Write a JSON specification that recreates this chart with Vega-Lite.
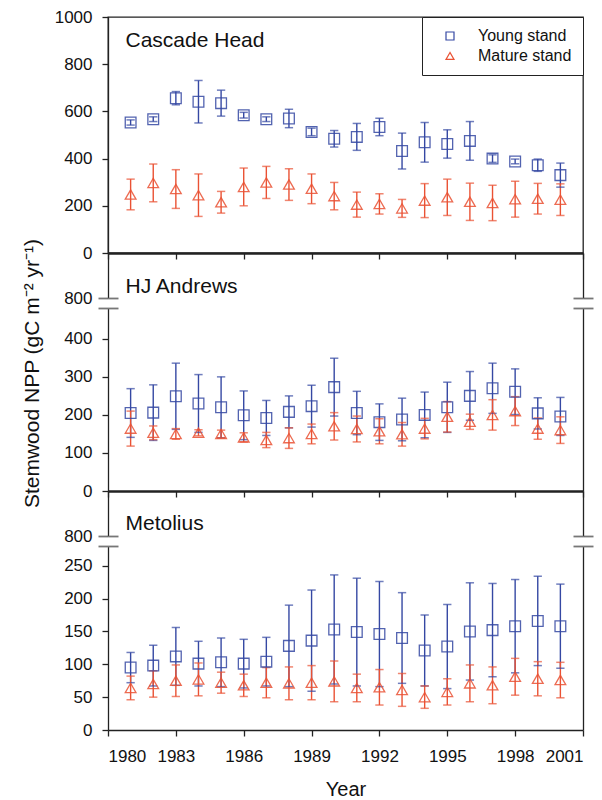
{
  "$schema": "https://vega.github.io/schema/vega-lite/v6.json",
  "padding": {"left": 20, "top": 7, "right": 0, "bottom": 0},
  "spacing": 0,
  "bounds": "flush",
  "config": {
    "font": "Liberation Sans",
    "view": {"stroke": null},
    "axis": {"domainColor": "#222", "tickColor": "#222", "labelColor": "#111", "labelFontSize": 17, "grid": false, "domainWidth": 1.3, "tickWidth": 1.3, "titleColor": "#111", "titleFontWeight": "normal", "labelFont": "Liberation Sans", "titleFont": "Liberation Sans", "format": "d"},
    "legend": {"symbolFillColor": "transparent"}
  },
  "resolve": {"scale": {"color": "independent", "shape": "independent"}},
  "datasets": {
    "npp": [
      {"site":"Cascade Head","stand":"Young stand","year":1981,"npp":553,"lo":542,"hi":564},
      {"site":"Cascade Head","stand":"Young stand","year":1982,"npp":567,"lo":557,"hi":577},
      {"site":"Cascade Head","stand":"Young stand","year":1983,"npp":656,"lo":628,"hi":684},
      {"site":"Cascade Head","stand":"Young stand","year":1984,"npp":641,"lo":551,"hi":731},
      {"site":"Cascade Head","stand":"Young stand","year":1985,"npp":635,"lo":580,"hi":690},
      {"site":"Cascade Head","stand":"Young stand","year":1986,"npp":584,"lo":572,"hi":596},
      {"site":"Cascade Head","stand":"Young stand","year":1987,"npp":567,"lo":557,"hi":577},
      {"site":"Cascade Head","stand":"Young stand","year":1988,"npp":570,"lo":531,"hi":609},
      {"site":"Cascade Head","stand":"Young stand","year":1989,"npp":513,"lo":497,"hi":529},
      {"site":"Cascade Head","stand":"Young stand","year":1990,"npp":484,"lo":449,"hi":519},
      {"site":"Cascade Head","stand":"Young stand","year":1991,"npp":492,"lo":435,"hi":549},
      {"site":"Cascade Head","stand":"Young stand","year":1992,"npp":534,"lo":497,"hi":571},
      {"site":"Cascade Head","stand":"Young stand","year":1993,"npp":432,"lo":356,"hi":508},
      {"site":"Cascade Head","stand":"Young stand","year":1994,"npp":469,"lo":385,"hi":553},
      {"site":"Cascade Head","stand":"Young stand","year":1995,"npp":462,"lo":402,"hi":522},
      {"site":"Cascade Head","stand":"Young stand","year":1996,"npp":475,"lo":393,"hi":557},
      {"site":"Cascade Head","stand":"Young stand","year":1997,"npp":400,"lo":384,"hi":416},
      {"site":"Cascade Head","stand":"Young stand","year":1998,"npp":388,"lo":378,"hi":398},
      {"site":"Cascade Head","stand":"Young stand","year":1999,"npp":372,"lo":346,"hi":398},
      {"site":"Cascade Head","stand":"Young stand","year":2000,"npp":330,"lo":279,"hi":381},
      {"site":"Cascade Head","stand":"Mature stand","year":1981,"npp":248,"lo":183,"hi":313},
      {"site":"Cascade Head","stand":"Mature stand","year":1982,"npp":297,"lo":217,"hi":377},
      {"site":"Cascade Head","stand":"Mature stand","year":1983,"npp":271,"lo":189,"hi":353},
      {"site":"Cascade Head","stand":"Mature stand","year":1984,"npp":245,"lo":155,"hi":335},
      {"site":"Cascade Head","stand":"Mature stand","year":1985,"npp":215,"lo":169,"hi":261},
      {"site":"Cascade Head","stand":"Mature stand","year":1986,"npp":280,"lo":200,"hi":360},
      {"site":"Cascade Head","stand":"Mature stand","year":1987,"npp":299,"lo":231,"hi":367},
      {"site":"Cascade Head","stand":"Mature stand","year":1988,"npp":290,"lo":223,"hi":357},
      {"site":"Cascade Head","stand":"Mature stand","year":1989,"npp":272,"lo":209,"hi":335},
      {"site":"Cascade Head","stand":"Mature stand","year":1990,"npp":241,"lo":183,"hi":299},
      {"site":"Cascade Head","stand":"Mature stand","year":1991,"npp":205,"lo":152,"hi":258},
      {"site":"Cascade Head","stand":"Mature stand","year":1992,"npp":208,"lo":165,"hi":251},
      {"site":"Cascade Head","stand":"Mature stand","year":1993,"npp":189,"lo":151,"hi":227},
      {"site":"Cascade Head","stand":"Mature stand","year":1994,"npp":222,"lo":150,"hi":294},
      {"site":"Cascade Head","stand":"Mature stand","year":1995,"npp":236,"lo":159,"hi":313},
      {"site":"Cascade Head","stand":"Mature stand","year":1996,"npp":217,"lo":138,"hi":296},
      {"site":"Cascade Head","stand":"Mature stand","year":1997,"npp":212,"lo":137,"hi":287},
      {"site":"Cascade Head","stand":"Mature stand","year":1998,"npp":228,"lo":152,"hi":304},
      {"site":"Cascade Head","stand":"Mature stand","year":1999,"npp":230,"lo":165,"hi":295},
      {"site":"Cascade Head","stand":"Mature stand","year":2000,"npp":226,"lo":159,"hi":293},
      {"site":"HJ Andrews","stand":"Young stand","year":1981,"npp":205,"lo":141,"hi":269},
      {"site":"HJ Andrews","stand":"Young stand","year":1982,"npp":206,"lo":133,"hi":279},
      {"site":"HJ Andrews","stand":"Young stand","year":1983,"npp":249,"lo":162,"hi":336},
      {"site":"HJ Andrews","stand":"Young stand","year":1984,"npp":230,"lo":154,"hi":306},
      {"site":"HJ Andrews","stand":"Young stand","year":1985,"npp":220,"lo":140,"hi":300},
      {"site":"HJ Andrews","stand":"Young stand","year":1986,"npp":199,"lo":135,"hi":263},
      {"site":"HJ Andrews","stand":"Young stand","year":1987,"npp":192,"lo":146,"hi":238},
      {"site":"HJ Andrews","stand":"Young stand","year":1988,"npp":208,"lo":166,"hi":250},
      {"site":"HJ Andrews","stand":"Young stand","year":1989,"npp":223,"lo":168,"hi":278},
      {"site":"HJ Andrews","stand":"Young stand","year":1990,"npp":273,"lo":197,"hi":349},
      {"site":"HJ Andrews","stand":"Young stand","year":1991,"npp":205,"lo":148,"hi":262},
      {"site":"HJ Andrews","stand":"Young stand","year":1992,"npp":181,"lo":133,"hi":229},
      {"site":"HJ Andrews","stand":"Young stand","year":1993,"npp":188,"lo":132,"hi":244},
      {"site":"HJ Andrews","stand":"Young stand","year":1994,"npp":200,"lo":140,"hi":260},
      {"site":"HJ Andrews","stand":"Young stand","year":1995,"npp":220,"lo":154,"hi":286},
      {"site":"HJ Andrews","stand":"Young stand","year":1996,"npp":250,"lo":186,"hi":314},
      {"site":"HJ Andrews","stand":"Young stand","year":1997,"npp":270,"lo":204,"hi":336},
      {"site":"HJ Andrews","stand":"Young stand","year":1998,"npp":261,"lo":201,"hi":321},
      {"site":"HJ Andrews","stand":"Young stand","year":1999,"npp":204,"lo":163,"hi":245},
      {"site":"HJ Andrews","stand":"Young stand","year":2000,"npp":196,"lo":146,"hi":246},
      {"site":"HJ Andrews","stand":"Mature stand","year":1981,"npp":164,"lo":118,"hi":210},
      {"site":"HJ Andrews","stand":"Mature stand","year":1982,"npp":153,"lo":135,"hi":171},
      {"site":"HJ Andrews","stand":"Mature stand","year":1983,"npp":150,"lo":136,"hi":164},
      {"site":"HJ Andrews","stand":"Mature stand","year":1984,"npp":153,"lo":145,"hi":161},
      {"site":"HJ Andrews","stand":"Mature stand","year":1985,"npp":150,"lo":140,"hi":160},
      {"site":"HJ Andrews","stand":"Mature stand","year":1986,"npp":141,"lo":129,"hi":153},
      {"site":"HJ Andrews","stand":"Mature stand","year":1987,"npp":134,"lo":114,"hi":154},
      {"site":"HJ Andrews","stand":"Mature stand","year":1988,"npp":139,"lo":112,"hi":166},
      {"site":"HJ Andrews","stand":"Mature stand","year":1989,"npp":150,"lo":124,"hi":176},
      {"site":"HJ Andrews","stand":"Mature stand","year":1990,"npp":170,"lo":134,"hi":206},
      {"site":"HJ Andrews","stand":"Mature stand","year":1991,"npp":163,"lo":129,"hi":197},
      {"site":"HJ Andrews","stand":"Mature stand","year":1992,"npp":157,"lo":124,"hi":190},
      {"site":"HJ Andrews","stand":"Mature stand","year":1993,"npp":149,"lo":118,"hi":180},
      {"site":"HJ Andrews","stand":"Mature stand","year":1994,"npp":164,"lo":137,"hi":191},
      {"site":"HJ Andrews","stand":"Mature stand","year":1995,"npp":195,"lo":155,"hi":235},
      {"site":"HJ Andrews","stand":"Mature stand","year":1996,"npp":182,"lo":162,"hi":202},
      {"site":"HJ Andrews","stand":"Mature stand","year":1997,"npp":200,"lo":160,"hi":240},
      {"site":"HJ Andrews","stand":"Mature stand","year":1998,"npp":210,"lo":172,"hi":248},
      {"site":"HJ Andrews","stand":"Mature stand","year":1999,"npp":164,"lo":136,"hi":192},
      {"site":"HJ Andrews","stand":"Mature stand","year":2000,"npp":160,"lo":125,"hi":195},
      {"site":"Metolius","stand":"Young stand","year":1981,"npp":95,"lo":72,"hi":118},
      {"site":"Metolius","stand":"Young stand","year":1982,"npp":98,"lo":67,"hi":129},
      {"site":"Metolius","stand":"Young stand","year":1983,"npp":112,"lo":68,"hi":156},
      {"site":"Metolius","stand":"Young stand","year":1984,"npp":101,"lo":67,"hi":135},
      {"site":"Metolius","stand":"Young stand","year":1985,"npp":103,"lo":66,"hi":140},
      {"site":"Metolius","stand":"Young stand","year":1986,"npp":101,"lo":64,"hi":138},
      {"site":"Metolius","stand":"Young stand","year":1987,"npp":104,"lo":67,"hi":141},
      {"site":"Metolius","stand":"Young stand","year":1988,"npp":128,"lo":66,"hi":190},
      {"site":"Metolius","stand":"Young stand","year":1989,"npp":136,"lo":59,"hi":213},
      {"site":"Metolius","stand":"Young stand","year":1990,"npp":153,"lo":70,"hi":236},
      {"site":"Metolius","stand":"Young stand","year":1991,"npp":149,"lo":67,"hi":231},
      {"site":"Metolius","stand":"Young stand","year":1992,"npp":146,"lo":66,"hi":226},
      {"site":"Metolius","stand":"Young stand","year":1993,"npp":140,"lo":71,"hi":209},
      {"site":"Metolius","stand":"Young stand","year":1994,"npp":121,"lo":67,"hi":175},
      {"site":"Metolius","stand":"Young stand","year":1995,"npp":127,"lo":63,"hi":191},
      {"site":"Metolius","stand":"Young stand","year":1996,"npp":150,"lo":76,"hi":224},
      {"site":"Metolius","stand":"Young stand","year":1997,"npp":152,"lo":81,"hi":223},
      {"site":"Metolius","stand":"Young stand","year":1998,"npp":158,"lo":87,"hi":229},
      {"site":"Metolius","stand":"Young stand","year":1999,"npp":166,"lo":98,"hi":234},
      {"site":"Metolius","stand":"Young stand","year":2000,"npp":158,"lo":94,"hi":222},
      {"site":"Metolius","stand":"Mature stand","year":1981,"npp":64,"lo":46,"hi":82},
      {"site":"Metolius","stand":"Mature stand","year":1982,"npp":70,"lo":50,"hi":90},
      {"site":"Metolius","stand":"Mature stand","year":1983,"npp":75,"lo":51,"hi":99},
      {"site":"Metolius","stand":"Mature stand","year":1984,"npp":77,"lo":52,"hi":102},
      {"site":"Metolius","stand":"Mature stand","year":1985,"npp":72,"lo":56,"hi":88},
      {"site":"Metolius","stand":"Mature stand","year":1986,"npp":68,"lo":51,"hi":85},
      {"site":"Metolius","stand":"Mature stand","year":1987,"npp":72,"lo":49,"hi":95},
      {"site":"Metolius","stand":"Mature stand","year":1988,"npp":71,"lo":46,"hi":96},
      {"site":"Metolius","stand":"Mature stand","year":1989,"npp":72,"lo":46,"hi":98},
      {"site":"Metolius","stand":"Mature stand","year":1990,"npp":74,"lo":43,"hi":105},
      {"site":"Metolius","stand":"Mature stand","year":1991,"npp":64,"lo":43,"hi":85},
      {"site":"Metolius","stand":"Mature stand","year":1992,"npp":65,"lo":38,"hi":92},
      {"site":"Metolius","stand":"Mature stand","year":1993,"npp":61,"lo":36,"hi":86},
      {"site":"Metolius","stand":"Mature stand","year":1994,"npp":50,"lo":33,"hi":67},
      {"site":"Metolius","stand":"Mature stand","year":1995,"npp":58,"lo":38,"hi":78},
      {"site":"Metolius","stand":"Mature stand","year":1996,"npp":71,"lo":43,"hi":99},
      {"site":"Metolius","stand":"Mature stand","year":1997,"npp":68,"lo":40,"hi":96},
      {"site":"Metolius","stand":"Mature stand","year":1998,"npp":81,"lo":53,"hi":109},
      {"site":"Metolius","stand":"Mature stand","year":1999,"npp":78,"lo":52,"hi":104},
      {"site":"Metolius","stand":"Mature stand","year":2000,"npp":76,"lo":49,"hi":103}
    ]
  },
  "vconcat": [
    {
      "width": 475, "height": 236,
      "view": {"stroke": "#222", "strokeWidth": 1.3},
      "data": {"name": "npp"},
      "transform": [{"filter": "datum.site === 'Cascade Head'"}],
      "resolve": {"axis": {"x": "independent", "y": "independent"}},
      "layer": [
        {"mark": {"type": "point", "filled": false, "size": 115, "strokeWidth": 1.3, "opacity": 0.85},
         "encoding": {
           "x": {"field": "year", "type": "quantitative", "scale": {"domain": [1980, 2001], "nice": false, "zero": false}, "axis": null},
           "y": {"field": "npp", "type": "quantitative", "scale": {"domain": [0, 1000], "nice": false, "zero": false}, "axis": null},
           "color": {"field": "stand", "type": "nominal", "scale": {"domain": ["Young stand", "Mature stand"], "range": ["#3548a3", "#ea5234"]},
             "legend": {"title": null, "orient": "top-right", "offset": 0, "strokeColor": "#222", "fillColor": "white", "padding": 11, "labelFontSize": 16, "labelOffset": 20, "rowPadding": 4, "symbolSize": 64, "symbolStrokeWidth": 1.2, "symbolFillColor": "transparent", "labelColor": "#111", "labelFont": "Liberation Sans",
               "encode": {"symbols": {"update": {"x": {"value": 17}, "fill": {"value": "transparent"}, "stroke": {"signal": "datum.value === 'Young stand' ? '#3548a3' : '#ea5234'"}}}, "labels": {"update": {"x": {"value": 45}}}}}},
           "shape": {"field": "stand", "type": "nominal", "scale": {"domain": ["Young stand", "Mature stand"], "range": ["square", "triangle-up"]},
             "legend": {"title": null, "orient": "top-right", "offset": 0, "strokeColor": "#222", "fillColor": "white", "padding": 11, "labelFontSize": 16, "labelOffset": 20, "rowPadding": 4, "symbolSize": 64, "symbolStrokeWidth": 1.2, "symbolFillColor": "transparent", "labelColor": "#111", "labelFont": "Liberation Sans",
               "encode": {"symbols": {"update": {"x": {"value": 17}, "fill": {"value": "transparent"}, "stroke": {"signal": "datum.value === 'Young stand' ? '#3548a3' : '#ea5234'"}}}, "labels": {"update": {"x": {"value": 45}}}}}}
         }},
        {"mark": {"type": "rule", "strokeWidth": 1.4},
         "encoding": {
           "x": {"field": "year", "type": "quantitative", "axis": {"orient": "bottom", "values": [1980, 1983, 1986, 1989, 1992, 1995, 1998, 2001], "labels": false, "tickSize": 6, "domainWidth": 2.6, "title": null}},
           "y": {"field": "lo", "type": "quantitative", "axis": {"orient": "left", "values": [0, 200, 400, 600, 800, 1000], "format": "d", "tickSize": 6, "labelPadding": 10, "title": null}},
           "y2": {"field": "hi"},
           "color": {"field": "stand", "type": "nominal",
             "legend": {"title": null, "orient": "top-right", "offset": 0, "strokeColor": "#222", "fillColor": "white", "padding": 11, "labelFontSize": 16, "labelOffset": 20, "rowPadding": 4, "symbolSize": 64, "symbolStrokeWidth": 1.2, "symbolFillColor": "transparent", "labelColor": "#111", "labelFont": "Liberation Sans",
               "encode": {"symbols": {"update": {"x": {"value": 17}, "fill": {"value": "transparent"}, "stroke": {"signal": "datum.value === 'Young stand' ? '#3548a3' : '#ea5234'"}}}, "labels": {"update": {"x": {"value": 45}}}}}}
         }},
        {"mark": {"type": "tick", "orient": "horizontal", "size": 7, "thickness": 0.2, "filled": false, "strokeWidth": 1.3},
         "encoding": {
           "x": {"field": "year", "type": "quantitative", "axis": {"orient": "top", "domain": false, "ticks": false, "labels": false, "title": "Cascade Head", "titleX": 17, "titleY": 29.7, "titleAlign": "left", "titleBaseline": "alphabetic", "titleFontSize": 21}},
           "y": {"field": "lo", "type": "quantitative", "axis": null},
           "color": {"field": "stand", "type": "nominal",
             "legend": {"title": null, "orient": "top-right", "offset": 0, "strokeColor": "#222", "fillColor": "white", "padding": 11, "labelFontSize": 16, "labelOffset": 20, "rowPadding": 4, "symbolSize": 64, "symbolStrokeWidth": 1.2, "symbolFillColor": "transparent", "labelColor": "#111", "labelFont": "Liberation Sans",
               "encode": {"symbols": {"update": {"x": {"value": 17}, "fill": {"value": "transparent"}, "stroke": {"signal": "datum.value === 'Young stand' ? '#3548a3' : '#ea5234'"}}}, "labels": {"update": {"x": {"value": 45}}}}}}
         }},
        {"mark": {"type": "tick", "orient": "horizontal", "size": 7, "thickness": 0.2, "filled": false, "strokeWidth": 1.3},
         "encoding": {
           "x": {"field": "year", "type": "quantitative", "axis": null},
           "y": {"field": "hi", "type": "quantitative", "axis": null},
           "color": {"field": "stand", "type": "nominal",
             "legend": {"title": null, "orient": "top-right", "offset": 0, "strokeColor": "#222", "fillColor": "white", "padding": 11, "labelFontSize": 16, "labelOffset": 20, "rowPadding": 4, "symbolSize": 64, "symbolStrokeWidth": 1.2, "symbolFillColor": "transparent", "labelColor": "#111", "labelFont": "Liberation Sans",
               "encode": {"symbols": {"update": {"x": {"value": 17}, "fill": {"value": "transparent"}, "stroke": {"signal": "datum.value === 'Young stand' ? '#3548a3' : '#ea5234'"}}}, "labels": {"update": {"x": {"value": 45}}}}}}
         }}
      ]
    },
    {
      "width": 475, "height": 55,
      "data": {"name": "npp"},
      "transform": [{"filter": "datum.npp > 5000"}],
      "resolve": {"axis": {"x": "independent", "y": "independent"}},
      "layer": [
        {"mark": "rule", "encoding": {
          "x": {"field": "year", "type": "quantitative", "scale": {"domain": [1980, 2001], "nice": false, "zero": false}, "axis": {"orient": "top", "domain": false, "ticks": false, "labels": false, "title": "HJ Andrews", "titleX": 17, "titleY": 39.3, "titleAlign": "left", "titleBaseline": "alphabetic", "titleFontSize": 21}},
          "y": {"field": "npp", "type": "quantitative", "scale": {"domain": [800, 918], "range": [45, 0], "nice": false, "zero": false}, "axis": {"orient": "left", "values": [800], "tickSize": 10, "tickColor": "#777", "tickWidth": 1.8, "labelPadding": 6, "title": null}}}},
        {"mark": "rule", "encoding": {
          "x": {"field": "year", "type": "quantitative", "axis": null},
          "y": {"field": "npp", "type": "quantitative", "axis": {"orient": "left", "values": [800], "offset": -10, "tickSize": 10, "tickColor": "#777", "tickWidth": 1.8, "domain": false, "labels": false, "title": null}}}},
        {"mark": "rule", "encoding": {
          "x": {"field": "year", "type": "quantitative", "axis": null},
          "y": {"field": "npp", "type": "quantitative", "axis": {"orient": "right", "values": [800], "tickSize": 10, "tickColor": "#777", "tickWidth": 1.8, "labels": false, "title": null}}}},
        {"mark": "rule", "encoding": {
          "x": {"field": "year", "type": "quantitative", "axis": null},
          "y": {"field": "npp", "type": "quantitative", "axis": {"orient": "right", "values": [800], "offset": -10, "tickSize": 10, "tickColor": "#777", "tickWidth": 1.8, "domain": false, "labels": false, "title": null}}}}
      ]
    },
    {
      "width": 475, "height": 183,
      "data": {"name": "npp"},
      "transform": [{"filter": "datum.site === 'HJ Andrews'"}],
      "resolve": {"axis": {"x": "independent", "y": "independent"}},
      "layer": [
        {"mark": {"type": "rule", "strokeWidth": 1.4},
         "encoding": {
           "x": {"field": "year", "type": "quantitative", "scale": {"domain": [1980, 2001], "nice": false, "zero": false}, "axis": {"orient": "bottom", "values": [1980, 1983, 1986, 1989, 1992, 1995, 1998, 2001], "labels": false, "tickSize": 6, "domainWidth": 2.6, "title": null}},
           "y": {"field": "lo", "type": "quantitative", "scale": {"domain": [0, 481], "nice": false, "zero": false}, "axis": {"orient": "left", "values": [0, 100, 200, 300, 400], "tickSize": 6, "labelPadding": 10, "title": "Stemwood NPP (gC m⁻² yr⁻¹)", "titleFontSize": 21, "titleX": -76, "titleY": 65, "titleAngle": -90, "titleAlign": "center", "titleBaseline": "middle"}},
           "y2": {"field": "hi"},
           "color": {"field": "stand", "type": "nominal", "scale": {"domain": ["Young stand", "Mature stand"], "range": ["#3548a3", "#ea5234"]}, "legend": null}
         }},
        {"mark": {"type": "tick", "orient": "horizontal", "size": 7, "thickness": 0.2, "filled": false, "strokeWidth": 1.3},
         "encoding": {
           "x": {"field": "year", "type": "quantitative", "axis": null},
           "y": {"field": "lo", "type": "quantitative", "axis": {"orient": "left", "values": [481], "offset": -10, "tickSize": 20, "tickColor": "#777", "tickWidth": 1.8, "domain": false, "labels": false, "title": null}},
           "color": {"field": "stand", "type": "nominal", "legend": null}
         }},
        {"mark": {"type": "tick", "orient": "horizontal", "size": 7, "thickness": 0.2, "filled": false, "strokeWidth": 1.3},
         "encoding": {
           "x": {"field": "year", "type": "quantitative", "axis": null},
           "y": {"field": "hi", "type": "quantitative", "axis": {"orient": "right", "ticks": false, "labels": false, "title": null}},
           "color": {"field": "stand", "type": "nominal", "legend": null}
         }},
        {"mark": {"type": "point", "filled": false, "size": 115, "strokeWidth": 1.3, "opacity": 0.85},
         "encoding": {
           "x": {"field": "year", "type": "quantitative", "axis": null},
           "y": {"field": "npp", "type": "quantitative", "axis": {"orient": "right", "values": [481], "offset": -10, "tickSize": 20, "tickColor": "#777", "tickWidth": 1.8, "domain": false, "labels": false, "title": null}},
           "color": {"field": "stand", "type": "nominal", "legend": null},
           "shape": {"field": "stand", "type": "nominal", "scale": {"domain": ["Young stand", "Mature stand"], "range": ["square", "triangle-up"]}, "legend": null}
         }}
      ]
    },
    {
      "width": 475, "height": 55,
      "data": {"name": "npp"},
      "transform": [{"filter": "datum.npp > 5000"}],
      "resolve": {"axis": {"x": "independent", "y": "independent"}},
      "layer": [
        {"mark": "rule", "encoding": {
          "x": {"field": "year", "type": "quantitative", "scale": {"domain": [1980, 2001], "nice": false, "zero": false}, "axis": {"orient": "top", "domain": false, "ticks": false, "labels": false, "title": "Metolius", "titleX": 17, "titleY": 38, "titleAlign": "left", "titleBaseline": "alphabetic", "titleFontSize": 21}},
          "y": {"field": "npp", "type": "quantitative", "scale": {"domain": [800, 868], "range": [45, 0], "nice": false, "zero": false}, "axis": {"orient": "left", "values": [800], "tickSize": 10, "tickColor": "#777", "tickWidth": 1.8, "labelPadding": 6, "title": null}}}},
        {"mark": "rule", "encoding": {
          "x": {"field": "year", "type": "quantitative", "axis": null},
          "y": {"field": "npp", "type": "quantitative", "axis": {"orient": "left", "values": [800], "offset": -10, "tickSize": 10, "tickColor": "#777", "tickWidth": 1.8, "domain": false, "labels": false, "title": null}}}},
        {"mark": "rule", "encoding": {
          "x": {"field": "year", "type": "quantitative", "axis": null},
          "y": {"field": "npp", "type": "quantitative", "axis": {"orient": "right", "values": [800], "tickSize": 10, "tickColor": "#777", "tickWidth": 1.8, "labels": false, "title": null}}}},
        {"mark": "rule", "encoding": {
          "x": {"field": "year", "type": "quantitative", "axis": null},
          "y": {"field": "npp", "type": "quantitative", "axis": {"orient": "right", "values": [800], "offset": -10, "tickSize": 10, "tickColor": "#777", "tickWidth": 1.8, "domain": false, "labels": false, "title": null}}}}
      ]
    },
    {
      "width": 475, "height": 184,
      "data": {"name": "npp"},
      "transform": [{"filter": "datum.site === 'Metolius'"}],
      "resolve": {"axis": {"x": "independent", "y": "independent"}},
      "layer": [
        {"mark": {"type": "rule", "strokeWidth": 1.4},
         "encoding": {
           "x": {"field": "year", "type": "quantitative", "scale": {"domain": [1980, 2001], "nice": false, "zero": false}, "axis": {"orient": "bottom", "values": [1980, 1983, 1986, 1989, 1992, 1995, 1998, 2001], "format": "d", "tickSize": 6, "labelPadding": 12, "title": "Year", "titleFontSize": 20, "titleBaseline": "alphabetic", "titleY": 65.5}},
           "y": {"field": "lo", "type": "quantitative", "scale": {"domain": [0, 280], "nice": false, "zero": false}, "axis": {"orient": "left", "values": [0, 50, 100, 150, 200, 250], "tickSize": 6, "labelPadding": 10, "title": null}},
           "y2": {"field": "hi"},
           "color": {"field": "stand", "type": "nominal", "scale": {"domain": ["Young stand", "Mature stand"], "range": ["#3548a3", "#ea5234"]}, "legend": null}
         }},
        {"mark": {"type": "tick", "orient": "horizontal", "size": 7, "thickness": 0.2, "filled": false, "strokeWidth": 1.3},
         "encoding": {
           "x": {"field": "year", "type": "quantitative", "axis": null},
           "y": {"field": "lo", "type": "quantitative", "axis": {"orient": "left", "values": [280], "offset": -10, "tickSize": 20, "tickColor": "#777", "tickWidth": 1.8, "domain": false, "labels": false, "title": null}},
           "color": {"field": "stand", "type": "nominal", "legend": null}
         }},
        {"mark": {"type": "tick", "orient": "horizontal", "size": 7, "thickness": 0.2, "filled": false, "strokeWidth": 1.3},
         "encoding": {
           "x": {"field": "year", "type": "quantitative", "axis": null},
           "y": {"field": "hi", "type": "quantitative", "axis": {"orient": "right", "ticks": false, "labels": false, "title": null}},
           "color": {"field": "stand", "type": "nominal", "legend": null}
         }},
        {"mark": {"type": "point", "filled": false, "size": 115, "strokeWidth": 1.3, "opacity": 0.85},
         "encoding": {
           "x": {"field": "year", "type": "quantitative", "axis": null},
           "y": {"field": "npp", "type": "quantitative", "axis": {"orient": "right", "values": [280], "offset": -10, "tickSize": 20, "tickColor": "#777", "tickWidth": 1.8, "domain": false, "labels": false, "title": null}},
           "color": {"field": "stand", "type": "nominal", "legend": null},
           "shape": {"field": "stand", "type": "nominal", "scale": {"domain": ["Young stand", "Mature stand"], "range": ["square", "triangle-up"]}, "legend": null}
         }}
      ]
    }
  ]
}
